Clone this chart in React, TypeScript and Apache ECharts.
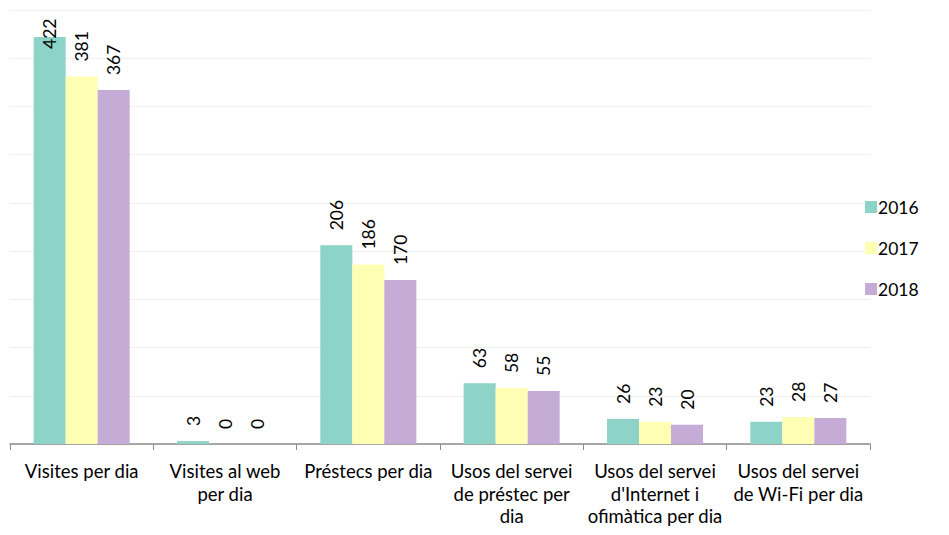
import React, { useEffect, useRef } from "react";
import * as echarts from "echarts";

const categories = [
  "Visites per dia",
  "Visites al web\nper dia",
  "Préstecs per dia",
  "Usos del servei\nde préstec per\ndia",
  "Usos del servei\nd'Internet i\nofimàtica per dia",
  "Usos del servei\nde Wi-Fi per dia",
];
const years = ["2016", "2017", "2018"];
const values2016 = [422, 3, 206, 63, 26, 23];
const values2017 = [381, 0, 186, 58, 23, 28];
const values2018 = [367, 0, 170, 55, 20, 27];
const colors = ["#8DD3C7", "#FFFFB3", "#C4ACD6"];

const FONT = "Lato, 'Open Sans', sans-serif";
const Y_MAX = 450;

export default function App() {
  const ref = useRef<HTMLDivElement>(null);
  useEffect(() => {
    document.body.style.margin = "0";
    if (!ref.current) return;
    const chart = echarts.init(ref.current, undefined, { renderer: "svg" });
    const seriesData = [values2016, values2017, values2018];
    chart.setOption({
      animation: false,
      textStyle: { fontFamily: FONT },
      grid: { left: 10, right: 79, top: 10, bottom: 91, containLabel: false },
      legend: {
        orient: "vertical",
        left: 860,
        top: 193,
        itemWidth: 12,
        itemHeight: 12,
        itemGap: 23,
        icon: "rect",
        textStyle: { fontSize: 17.5, color: "#000", fontFamily: FONT, padding: [0, 0, 0, -4] },
        data: years,
      },
      xAxis: {
        type: "category",
        data: categories,
        axisLine: { lineStyle: { color: "#8c8c8c", width: 1.5 } },
        axisTick: { show: true, length: 6, lineStyle: { color: "#8c8c8c" } },
        axisLabel: {
          fontSize: 18.5,
          color: "#000",
          lineHeight: 22.5,
          margin: 16,
          interval: 0,
          fontFamily: FONT,
        },
      },
      yAxis: {
        type: "value",
        min: 0,
        max: Y_MAX,
        interval: 50,
        axisLabel: { show: false },
        axisLine: { show: false },
        axisTick: { show: false },
        splitLine: { lineStyle: { color: "#efefef", width: 1 } },
      },
      series: years.map((y, i) => ({
        name: y,
        type: "bar",
        data: seriesData[i].map((v) =>
          v > 400 ? { value: v, label: { distance: -12 } } : v
        ),
        barWidth: 32,
        barGap: "0%",
        itemStyle: { color: colors[i] },
        label: {
          show: true,
          position: "top",
          rotate: 90,
          align: "left",
          verticalAlign: "middle",
          distance: 15,
          fontSize: 17.5,
          color: "#000",
          fontFamily: FONT,
        },
      })),
    });
    return () => chart.dispose();
  }, []);
  return <div ref={ref} style={{ width: 949, height: 535 }} />;
}
